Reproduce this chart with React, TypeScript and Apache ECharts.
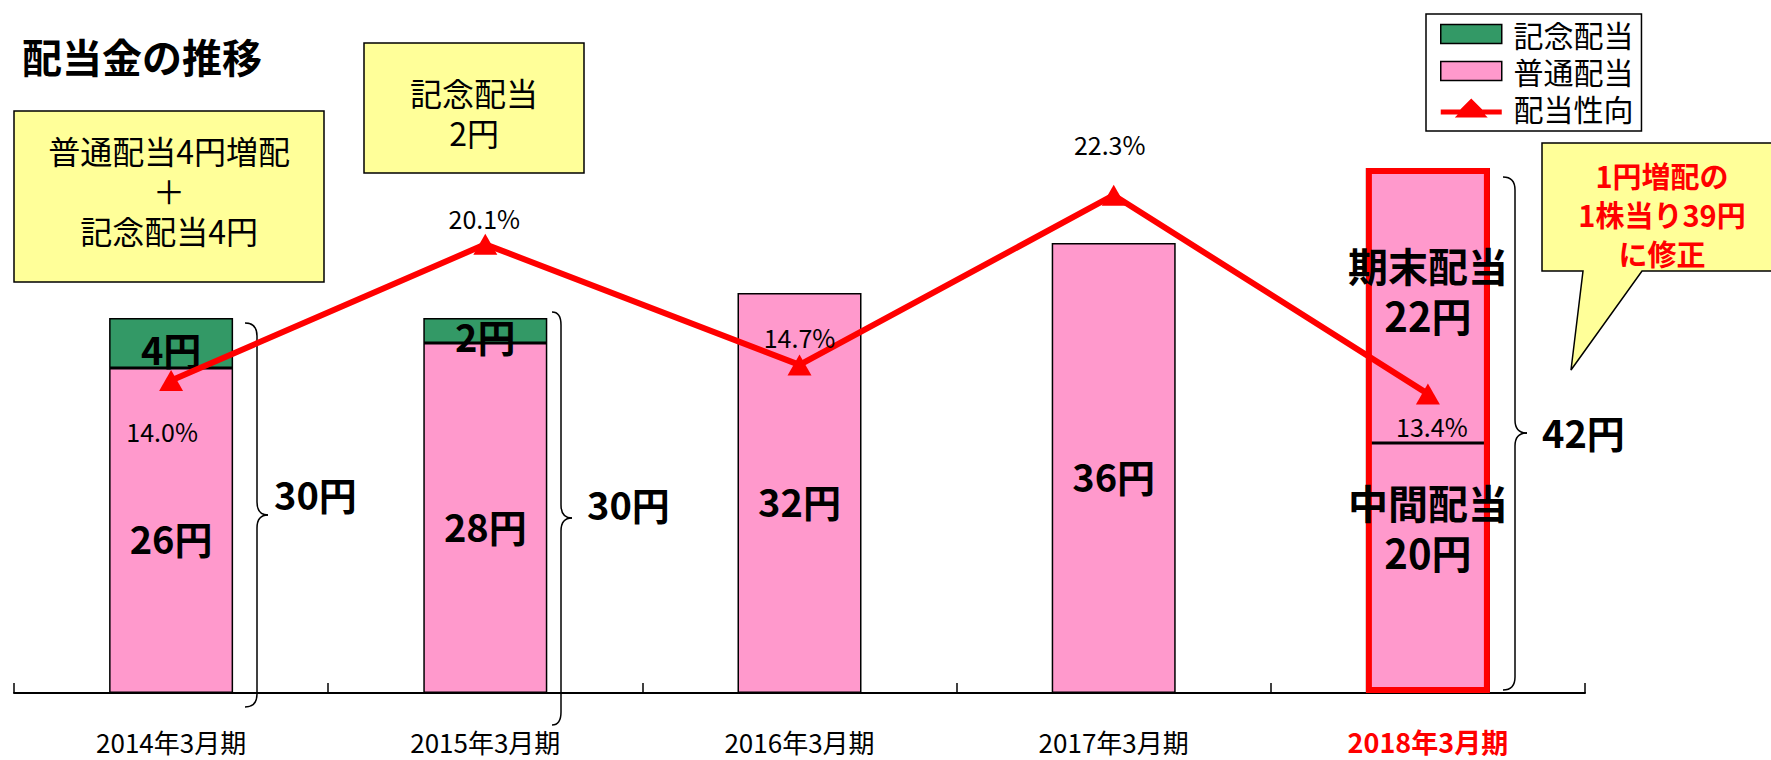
import React, { useEffect, useRef } from 'react';
import * as echarts from 'echarts';

const FONT = "'Noto Sans CJK JP', 'Noto Sans', sans-serif";

// ---- data ----
const categories = ['2014年3月期', '2015年3月期', '2016年3月期', '2017年3月期', '2018年3月期'];
// 普通配当 (2018: 中間配当)
const regularDividend = [26, 28, 32, 36, 20];
// 2018 期末配当
const yearEndDividend = [null, null, null, null, 22];
// 記念配当
const commemorativeDividend = [4, 2, null, null, null];
// 配当性向 (%)
const payoutRatio = [14.0, 20.1, 14.7, 22.3, 13.4];
const bracketTotals = ['30円', '30円', '42円'];

// ---- styles ----
const PINK = '#FF99CC';
const GREEN = '#339966';
const RED = '#FF0000';
const YELLOW = '#FFFF99';
const lineLabelOffsets = [[-9, 50], [-1, -26], [0, -28], [-4, -51], [4, 32]];
const LEGEND_LINE_ICON =
  'path://M0,8L19.5,8L30.5,-3L41.5,8L61,8L61,13L44,13L47,16L14,16L17,13L0,13Z';

const braceStyle = { stroke: '#000', lineWidth: 1.5, fill: 'transparent' };
function brace(x0: number, x1: number, x2: number, top: number, mid: number, bottom: number, r = 13) {
  return [
    { type: 'bezierCurve', shape: { x1: x0, y1: top, x2: x1, y2: top + r, cpx1: x1, cpy1: top }, style: braceStyle },
    { type: 'line', shape: { x1: x1, y1: top + r, x2: x1, y2: mid - r }, style: braceStyle },
    { type: 'bezierCurve', shape: { x1: x1, y1: mid - r, x2: x2, y2: mid, cpx1: x1, cpy1: mid }, style: braceStyle },
    { type: 'bezierCurve', shape: { x1: x2, y1: mid, x2: x1, y2: mid + r, cpx1: x1, cpy1: mid }, style: braceStyle },
    { type: 'line', shape: { x1: x1, y1: mid + r, x2: x1, y2: bottom - r }, style: braceStyle },
    { type: 'bezierCurve', shape: { x1: x1, y1: bottom - r, x2: x0, y2: bottom, cpx1: x1, cpy1: bottom }, style: braceStyle },
  ];
}

function txt(text: string, x: number, y: number, fontSize: number, opts: any = {}) {
  return {
    type: 'text',
    x,
    y,
    style: {
      text,
      fontSize,
      fontFamily: FONT,
      fontWeight: opts.bold ? 'bold' : 'normal',
      fill: opts.color || '#000',
      align: opts.align || 'center',
      textAlign: opts.align || 'center',
      verticalAlign: 'middle',
      textVerticalAlign: 'middle',
      lineHeight: opts.lineHeight || fontSize * 1.2,
    },
    z: 100,
  };
}

export default function App() {
  const ref = useRef<HTMLDivElement>(null);

  useEffect(() => {
    if (!ref.current) return;
    const chart = echarts.init(ref.current, null, { renderer: 'svg' });

    const total2018 = (regularDividend[4] as number) + (yearEndDividend[4] as number);

    const option: any = {
      animation: false,
      backgroundColor: '#fff',
      textStyle: { fontFamily: FONT },
      grid: { left: 14, right: 186, top: 68, bottom: 67 },
      legend: {
        orient: 'vertical',
        left: 1426,
        top: 14,
        padding: [5, 8, 8, 14],
        itemWidth: 61,
        itemHeight: 19,
        itemGap: 7,
        symbolKeepAspect: false,
        borderColor: '#000',
        borderWidth: 1.5,
        backgroundColor: '#fff',
        formatter: (name: string) => ' ' + name,
        textStyle: { fontSize: 30, lineHeight: 30, color: '#000', fontFamily: FONT },
        data: [
          { name: '記念配当', icon: 'rect', itemStyle: { color: GREEN, borderColor: '#000', borderWidth: 1.5 } },
          { name: '普通配当', icon: 'rect', itemStyle: { color: PINK, borderColor: '#000', borderWidth: 1.5 } },
          { name: '配当性向', icon: LEGEND_LINE_ICON, itemStyle: { color: RED, borderWidth: 0 } },
        ],
      },
      xAxis: {
        type: 'category',
        data: categories.map((c, i) =>
          i === 4
            ? { value: c, textStyle: { color: RED, fontWeight: 'bold', fontSize: 27, lineHeight: 26 } }
            : { value: c }
        ),
        axisLine: { show: true, lineStyle: { color: '#000', width: 2 } },
        axisTick: { show: true, inside: true, length: 10, interval: 0, lineStyle: { color: '#000', width: 1.5 } },
        axisLabel: { margin: 35, fontSize: 26, lineHeight: 26, color: '#000', fontFamily: FONT, interval: 0 },
        splitLine: { show: false },
      },
      yAxis: [
        { type: 'value', min: 0, max: 50, show: false },
        { type: 'value', min: 0, max: 28, show: false },
      ],
      series: [
        {
          name: '普通配当',
          type: 'bar',
          stack: 'dividend',
          barWidth: 124,
          barGap: '-100%',
          itemStyle: { color: PINK, borderColor: '#000', borderWidth: 1.5 },
          label: {
            show: true,
            position: 'inside',
            offset: [0, 7],
            fontSize: 38,
            fontWeight: 'bold',
            color: '#000',
            fontFamily: FONT,
            formatter: (p: any) => (p.dataIndex === 4 ? `中間配当\n${p.value}円` : `${p.value}円`),
          },
          data: regularDividend.map((v, i) =>
            i === 4 ? { value: v, label: { fontSize: 40, lineHeight: 50, offset: [0, -41] } } : v
          ),
        },
        {
          name: '期末配当',
          type: 'bar',
          stack: 'dividend',
          barWidth: 124,
          barGap: '-100%',
          itemStyle: { color: PINK, borderColor: '#000', borderWidth: 1.5 },
          label: {
            show: true,
            position: 'inside',
            offset: [0, -16],
            fontSize: 40,
            lineHeight: 50,
            fontWeight: 'bold',
            color: '#000',
            fontFamily: FONT,
            formatter: (p: any) => `期末配当\n${p.value}円`,
          },
          data: yearEndDividend,
        },
        {
          name: '記念配当',
          type: 'bar',
          stack: 'dividend',
          barWidth: 124,
          barGap: '-100%',
          itemStyle: { color: GREEN, borderColor: '#000', borderWidth: 1.5 },
          label: {
            show: true,
            position: 'inside',
            offset: [0, 5],
            fontSize: 38,
            fontWeight: 'bold',
            color: '#000',
            fontFamily: FONT,
            formatter: (p: any) => `${p.value}円`,
          },
          data: commemorativeDividend,
        },
        {
          name: '2018枠',
          type: 'bar',
          barWidth: 124,
          barGap: '-100%',
          silent: true,
          itemStyle: { color: 'rgba(0,0,0,0)', borderColor: RED, borderWidth: 6 },
          data: [null, null, null, null, total2018],
        },
        {
          name: '配当性向',
          type: 'line',
          yAxisIndex: 1,
          symbol: 'triangle',
          symbolSize: [24, 21],
          lineStyle: { color: RED, width: 6 },
          itemStyle: { color: RED },
          label: {
            show: true,
            position: 'inside',
            fontSize: 25,
            color: '#000',
            fontFamily: FONT,
            formatter: (p: any) => payoutRatio[p.dataIndex].toFixed(1) + '%',
          },
          data: payoutRatio.map((v, i) => ({ value: v, label: { offset: lineLabelOffsets[i] } })),
        },
      ],
      graphic: [
        txt('配当金の推移', 22, 56, 40, { bold: true, align: 'left' }),
        {
          type: 'rect',
          shape: { x: 14, y: 111, width: 310, height: 171 },
          style: { fill: YELLOW, stroke: '#000', lineWidth: 1.5 },
          z: 90,
        },
        txt('普通配当4円増配\n＋\n記念配当4円', 169, 190, 32, { lineHeight: 40 }),
        {
          type: 'rect',
          shape: { x: 364, y: 43, width: 220, height: 130 },
          style: { fill: YELLOW, stroke: '#000', lineWidth: 1.5 },
          z: 90,
        },
        txt('記念配当\n2円', 474, 112, 32, { lineHeight: 40 }),
        {
          type: 'polygon',
          shape: {
            points: [
              [1542, 143], [1775, 143], [1775, 271], [1642, 271], [1571, 370], [1583, 271], [1542, 271],
            ],
          },
          style: { fill: YELLOW, stroke: '#000', lineWidth: 1.5 },
          z: 90,
        },
        txt('1円増配の\n1株当り39円\nに修正', 1662, 214, 29, { bold: true, color: RED, lineHeight: 39 }),
        ...brace(245, 257, 268, 323, 515, 707),
        ...brace(552, 561, 572, 312, 518, 725),
        ...brace(1503, 1515, 1527, 177, 433, 690),
        txt(bracketTotals[0], 274, 493, 38, { bold: true, align: 'left' }),
        txt(bracketTotals[1], 587, 503, 38, { bold: true, align: 'left' }),
        txt(bracketTotals[2], 1542, 431, 38, { bold: true, align: 'left' }),
      ],
    };

    chart.setOption(option);
    return () => chart.dispose();
  }, []);

  return (
    <div
      ref={ref}
      style={{ position: 'fixed', left: 0, top: 0, width: 1771, height: 760, background: '#fff' }}
    />
  );
}
